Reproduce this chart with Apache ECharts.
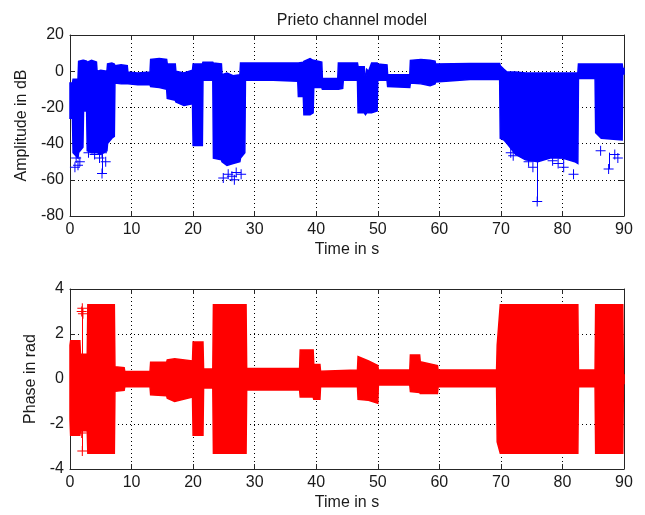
<!DOCTYPE html>
<html>
<head>
<meta charset="utf-8">
<script src="https://cdn.jsdelivr.net/npm/echarts@6/dist/echarts.min.js"></script>
<style>
html,body{margin:0;padding:0;background:#fff;}
#chart{width:645px;height:515px;}
</style>
</head>
<body>
<div id="chart"></div>
<script>
// ---------- Data ----------
// Amplitude envelope (upper / lower edge of the dense '+' cloud), dB
const ampTime = [0, 0.4, 0.5, 1.3, 1.4, 2.1, 2.2, 2.7, 2.8, 3.5, 4.3, 4.4, 5.0, 6.0, 6.1, 6.8, 7.2, 7.3, 8.3, 9.3,
  9.4, 11, 13.0, 13.1, 14.5, 15.7, 15.8, 17.1, 17.2, 18.5, 19.9, 20.0, 21.5, 21.6, 23.2, 23.3, 24.6, 24.7, 25.5, 26.5,
  27.6, 27.7, 28.4, 28.5, 33, 37.0, 37.1, 37.9, 38.0, 39.0, 39.5, 39.6, 40.9, 41.0, 43.5, 43.6, 44.3, 44.4, 46.7, 46.8,
  47.8, 48.0, 48.2, 48.5, 49.0, 49.9, 50.0, 51.5, 51.6, 55.2, 55.3, 57, 58.5, 59.3, 59.4, 65, 69.8, 69.9, 70.5, 71.0,
  72.4, 74, 76, 78, 80, 82, 82.5, 82.6, 85.3, 85.4, 86.3, 89.7, 89.8, 90];
const ampHigh = [-6.5, -6.5, -4.5, -4.5, 5.5, 6, 6, 5.5, 5, 6, 5, 0, 0.5, 0, 4, 4.5, 4, 3, 3.5, 3,
  -0.5, -1, -0.5, 6.5, 7, 6.5, 4, 4, 0, -1, 0.5, 4, 4, 5, 5, 4.5, 4, -2, -1, -2.5,
  -2, 4.5, 4.5, 4.5, 4.5, 4.5, 4.5, 5, 5.5, 7, 6, 6, 5, -4, -4, 4.5, 4.5, 4.5, 4.5, 2.5,
  2.5, -6, 1, 0, 4.5, 4.5, 4, 3.5, -2, -2, 6, 6.5, 6, 5.5, 4, 4.3, 4.3, 3, 1, -0.5,
  -0.5, -1, -1, -1, -1, -1, -1, 4, 4, 4, 4, 4, 1.5, 1.5];
const ampLow = [-26, -26, -45, -48, -45, -42, -22, -22, -44, -45, -45, -45, -46, -44, -40, -37, -36, -6.5, -7, -7,
  -7, -7.5, -7.5, -8.5, -9, -10, -15, -16, -17, -19, -18, -41, -41, -5, -5, -48, -49, -50, -52, -51,
  -50, -48, -45, -5, -5, -5.5, -14, -14, -24, -24, -23, -9, -9, -10, -10, -10, -9.5, -5, -5, -23,
  -23, -24, -23, -23, -23, -22, -5, -5, -8.5, -9, -6.5, -7, -8, -7, -6, -4.6, -4.6, -37, -38, -40,
  -46, -49, -50, -48, -48, -50, -51, -4, -4, -34, -37, -38, -1.5, -1.5];
// Isolated amplitude markers [time, dB]
const ampOutliers = [[0.8, -53], [1.0, -48], [1.3, -52], [1.6, -50], [3.0, -45], [4.0, -46], [4.8, -48], [5.2, -45],
  [5.2, -56.5], [5.8, -50], [24.9, -59], [25.7, -57], [26.3, -58], [26.7, -60], [27.0, -56], [27.8, -57],
  [71.0, -37], [71.6, -45], [72.0, -46.7], [74.5, -50], [75.2, -53], [75.9, -72], [78.4, -49.5], [79.3, -51],
  [80.2, -48], [80.2, -53], [81.8, -57], [86.2, -44], [87.5, -54], [88.5, -46], [89.0, -48]];
// Amplitude jumps drawn as vertical strokes [time, from, to]
const ampSpikes = [[5.2, -45, -56.5], [75.9, -50, -72], [87.5, -45, -54]];

// Phase envelope, rad
const phTime = [0, 0.1, 1.6, 1.7, 2.8, 2.9, 7.2, 7.3, 8.8, 8.9, 13.0, 13.1, 15.7, 15.8, 17, 19.9, 20.0, 21.6, 21.7, 23.2,
  23.3, 28.6, 28.7, 37.3, 37.4, 39.5, 39.6, 40.6, 40.7, 46.7, 46.8, 48.5, 50.0, 50.1, 55.2, 55.3, 56.8, 56.9, 59.7, 59.8,
  69.3, 69.4, 69.9, 82.5, 82.6, 85.3, 85.4, 89.8, 89.9, 90];
const phHigh = [1.5, 1.7, 1.7, 1.1, 1.1, 3.3, 3.3, 0.55, 0.5, 0.33, 0.33, 0.75, 0.75, 0.85, 0.9, 0.8, 1.65, 1.65, 0.45, 0.45,
  3.3, 3.3, 0.47, 0.47, 1.29, 1.29, 0.65, 0.65, 0.35, 0.4, 1.0, 0.8, 0.6, 0.4, 0.4, 1.07, 1.07, 0.77, 0.6, 0.4,
  0.4, 1.5, 3.3, 3.3, 0.4, 0.4, 3.3, 3.3, 0.18, 0.18];
const phLow = [-1.8, -2.5, -2.5, -2.3, -2.3, -3.3, -3.3, -0.55, -0.5, -0.34, -0.34, -0.7, -0.75, -0.85, -1.0, -0.8, -2.5, -2.5, -0.4, -0.4,
  -3.3, -3.3, -0.49, -0.49, -0.8, -0.8, -0.9, -0.9, -0.34, -0.34, -0.9, -0.95, -1.08, -0.27, -0.27, -0.56, -0.6, -0.64, -0.64, -0.34,
  -0.34, -2.8, -3.3, -3.3, -0.34, -0.34, -3.3, -3.3, -0.2, -0.2];
const phOutliers = [[1.9, 3.0], [2.0, 3.15], [2.1, 2.9], [1.9, -2.4], [2.0, -3.2], [2.1, -1.7]];
const phSpikes = [[2.0, 3.15, -3.2]];

// Axis ticks
const timeTicks = {min: 0, max: 90, interval: 10};
const ampTicks = {min: -80, max: 20, interval: 20};
const phTicks = {min: -4, max: 4, interval: 2};

// ---------- Chart ----------
const FONT = 'Liberation Sans, Arial, sans-serif';
const TXT = '#1a1a1a';
const AX = '#262626';
const plusPath = 'path://M0,4.5H10V5.5H0Z M4.5,0H5.5V10H4.5Z';

function xAxes(gi) {
  return [
    {gridIndex: gi, type: 'value', position: 'bottom', min: timeTicks.min, max: timeTicks.max, interval: timeTicks.interval,
     name: 'Time in s', nameLocation: 'middle', nameGap: 26,
     nameTextStyle: {fontFamily: FONT, fontSize: 16, color: TXT},
     axisLine: {show: true, onZero: false, lineStyle: {color: AX, width: 1}},
     axisTick: {show: true, inside: true, length: 5, lineStyle: {color: AX}},
     axisLabel: {fontFamily: FONT, fontSize: 16, color: TXT, margin: 6},
     splitLine: {show: true, lineStyle: {color: '#000', type: [1, 3], width: 1}}},
    {gridIndex: gi, type: 'value', position: 'top', min: timeTicks.min, max: timeTicks.max, interval: timeTicks.interval,
     axisLine: {show: true, onZero: false, lineStyle: {color: AX, width: 1}},
     axisTick: {show: true, inside: true, length: 5, lineStyle: {color: AX}},
     axisLabel: {show: false}, splitLine: {show: false}}
  ];
}
function yAxes(gi, t, nm) {
  return [
    {gridIndex: gi, type: 'value', position: 'left', min: t.min, max: t.max, interval: t.interval,
     name: nm, nameLocation: 'middle', nameGap: 30,
     nameTextStyle: {fontFamily: FONT, fontSize: 16, color: TXT},
     axisLine: {show: true, onZero: false, lineStyle: {color: AX, width: 1}},
     axisTick: {show: true, inside: true, length: 5, lineStyle: {color: AX}},
     axisLabel: {fontFamily: FONT, fontSize: 16, color: TXT, margin: 6},
     splitLine: {show: true, lineStyle: {color: '#000', type: [1, 3], width: 1}}},
    {gridIndex: gi, type: 'value', position: 'right', min: t.min, max: t.max, interval: t.interval,
     axisLine: {show: true, onZero: false, lineStyle: {color: AX, width: 1}},
     axisTick: {show: true, inside: true, length: 5, lineStyle: {color: AX}},
     axisLabel: {show: false}, splitLine: {show: false}}
  ];
}

// Band: one closed polygon (upper edge left->right, lower edge right->left)
function bandSeries(times, hi, lo, xi, yi, color) {
  const items = times.map((t, i) => [t, hi[i], lo[i]]);
  return {type: 'custom', xAxisIndex: xi, yAxisIndex: yi, silent: true, z: 3,
    encode: {x: 0, y: [1, 2]}, data: items,
    renderItem: function (params, api) {
      if (params.dataIndex !== 0) return {type: 'group', children: []};
      const pts = [];
      for (let i = 0; i < items.length; i++) pts.push(api.coord([items[i][0], items[i][1]]));
      for (let i = items.length - 1; i >= 0; i--) pts.push(api.coord([items[i][0], items[i][2]]));
      return {type: 'polygon', shape: {points: pts},
              style: {fill: color, stroke: color, lineWidth: 1.5, lineJoin: 'miter'}};
    }};
}
function spikeSeries(data, xi, yi, color) {
  return {type: 'custom', xAxisIndex: xi, yAxisIndex: yi, silent: true, z: 4,
    encode: {x: 0, y: [1, 2]}, data: data,
    renderItem: function (params, api) {
      const p1 = api.coord([api.value(0), api.value(1)]);
      const p2 = api.coord([api.value(0), api.value(2)]);
      const x = Math.round(p1[0]) + 0.5;
      return {type: 'line', shape: {x1: x, y1: p1[1], x2: x, y2: p2[1]},
              style: {stroke: color, lineWidth: 1}};
    }};
}
function markerSeries(data, xi, yi, color) {
  return {type: 'scatter', xAxisIndex: xi, yAxisIndex: yi, silent: true, z: 4,
    symbol: plusPath, symbolSize: 10, itemStyle: {color: color, opacity: 1}, data: data};
}

const chart = echarts.init(document.getElementById('chart'), null, {renderer: 'canvas'});
chart.setOption({
  animation: false,
  backgroundColor: '#fff',
  title: {text: 'Prieto channel model', left: 347, top: 8, textAlign: 'center',
          textStyle: {fontFamily: FONT, fontSize: 16, fontWeight: 'normal', color: TXT}},
  grid: [{left: 70, right: 21, top: 35, height: 181}, {left: 70, right: 21, top: 289, height: 180}],
  xAxis: [...xAxes(0), ...xAxes(1)],
  yAxis: [...yAxes(0, ampTicks, 'Amplitude in dB'), ...yAxes(1, phTicks, 'Phase in rad')],
  series: [
    bandSeries(ampTime, ampHigh, ampLow, 0, 0, '#0000ff'),
    spikeSeries(ampSpikes, 0, 0, '#0000ff'),
    markerSeries(ampOutliers, 0, 0, '#0000ff'),
    bandSeries(phTime, phHigh, phLow, 2, 2, '#ff0000'),
    spikeSeries(phSpikes, 2, 2, '#ff0000'),
    markerSeries(phOutliers, 2, 2, '#ff0000')
  ]
});
</script>
</body>
</html>
